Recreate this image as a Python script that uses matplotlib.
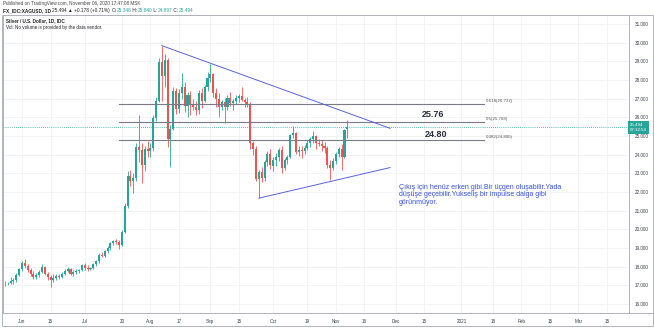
import matplotlib
matplotlib.use("Agg")
import matplotlib.pyplot as plt
from matplotlib.patches import Rectangle
from matplotlib.lines import Line2D
import numpy as np
import pandas as pd

plt.rcParams['font.family'] = ['Liberation Sans', 'DejaVu Sans']

# daily candles, business days from 2020-05-21 to 2020-11-06
first_day = '2020-05-21'
opens = [17.50, 17.15, 17.10, 17.12, 17.25, 17.30, 17.55,
         17.85, 18.20, 18.05, 17.80, 17.60, 17.45, 17.55, 17.70, 17.98, 17.62,
         17.45, 17.30, 17.40, 17.50, 17.45, 17.60, 17.78, 17.90, 17.62, 17.72,
         17.78, 17.82,
         18.10, 17.95, 17.85, 17.95, 18.12, 18.28, 18.65, 18.58, 18.85, 19.02,
         19.25, 19.40, 19.32, 19.18, 19.85, 21.25, 22.85, 22.60, 22.75, 24.40,
         24.25, 23.45, 24.30,
         24.22, 24.38, 25.95, 26.90, 28.95, 28.20, 29.05, 24.85, 25.40, 27.40,
         26.45, 27.30, 27.65, 26.60, 27.20, 26.65, 26.55, 26.40, 27.30, 26.90,
         27.65,
         28.10, 28.30, 27.30, 27.00, 26.55, 26.80, 26.55, 27.05, 26.75, 26.90,
         27.05, 27.15, 26.95, 26.80, 26.70, 24.62, 24.30, 22.70, 23.05, 22.75,
         23.60, 24.05,
         23.40, 23.72, 23.90, 24.25, 23.30, 23.70, 23.90, 25.05, 25.15, 24.15,
         24.25, 24.20, 24.35, 24.60, 24.85, 24.98, 24.65, 24.55, 24.45, 24.35,
         23.45, 23.30,
         23.65, 24.05, 24.30, 23.90, 25.348]
highs = [17.60, 17.25, 17.20, 17.45, 17.40, 17.65, 17.95,
         18.30, 18.40, 18.15, 17.95, 17.75, 17.65, 17.80, 18.15, 18.05, 17.70,
         17.55, 17.60, 17.60, 17.60, 17.70, 17.85, 18.00, 17.95, 17.80, 17.85,
         17.90, 18.15,
         18.20, 18.10, 18.00, 18.20, 18.35, 18.75, 18.80, 18.90, 19.10, 19.30,
         19.45, 19.50, 19.45, 19.95, 21.40, 23.10, 23.20, 23.00, 24.60, 26.15,
         24.60, 24.45, 24.75,
         24.60, 26.10, 27.10, 29.20, 29.84, 29.40, 29.20, 25.60, 27.60, 27.55,
         27.50, 28.40, 27.90, 27.35, 27.40, 27.00, 26.90, 27.45, 27.55, 27.75,
         28.45,
         28.88, 28.40, 27.55, 27.30, 26.95, 27.05, 27.20, 27.35, 27.00, 27.20,
         27.25, 27.60, 27.05, 27.10, 26.80, 24.75, 24.45, 23.20, 23.35, 23.70,
         24.20, 24.30,
         23.90, 24.10, 24.35, 24.45, 23.80, 24.00, 25.10, 25.55, 25.20, 24.45,
         24.45, 24.50, 24.80, 24.95, 25.25, 25.05, 24.85, 24.80, 24.70, 24.45,
         23.70, 23.80,
         24.15, 24.40, 24.55, 25.40, 25.840]
lows = [16.85, 16.95, 17.00, 17.05, 17.05, 17.20, 17.50,
        17.75, 17.95, 17.70, 17.50, 17.35, 17.35, 17.45, 17.65, 17.55, 17.30,
        16.90, 17.20, 17.30, 17.35, 17.40, 17.55, 17.70, 17.55, 17.50, 17.60,
        17.65, 17.75,
        17.80, 17.75, 17.80, 17.90, 18.05, 18.20, 18.50, 18.50, 18.75, 18.90,
        19.15, 19.20, 18.95, 19.10, 19.80, 21.15, 22.30, 21.95, 22.60, 23.60,
        22.50, 23.10, 23.90,
        23.90, 24.20, 25.80, 26.80, 26.90, 27.60, 24.40, 23.35, 25.30, 26.20,
        26.25, 27.00, 26.30, 26.00, 26.10, 26.40, 26.10, 26.20, 26.50, 26.80,
        27.40,
        27.90, 27.10, 26.55, 26.00, 26.40, 25.70, 26.40, 26.60, 26.40, 26.70,
        26.80, 26.85, 26.55, 26.55, 24.30, 24.00, 22.60, 21.67, 22.55, 22.60,
        23.40, 23.25,
        23.10, 23.40, 23.65, 23.00, 23.20, 23.50, 23.80, 24.90, 24.05, 23.95,
        23.80, 24.05, 24.25, 24.40, 24.60, 24.30, 24.45, 24.20, 24.10, 23.30,
        22.65, 23.20,
        23.50, 23.90, 23.20, 23.80, 24.897]
closes = [17.15, 17.10, 17.12, 17.25, 17.30, 17.55, 17.85,
          18.20, 18.05, 17.80, 17.60, 17.45, 17.55, 17.70, 17.98, 17.62, 17.45,
          17.30, 17.40, 17.50, 17.45, 17.60, 17.78, 17.90, 17.62, 17.72, 17.78,
          17.82, 18.10,
          17.95, 17.85, 17.95, 18.12, 18.28, 18.65, 18.58, 18.85, 19.02, 19.25,
          19.40, 19.32, 19.18, 19.85, 21.25, 22.85, 22.60, 22.75, 24.40, 24.25,
          23.45, 24.30, 24.22,
          24.38, 25.95, 26.90, 28.95, 28.20, 29.05, 24.85, 25.40, 27.40, 26.45,
          27.30, 27.65, 26.60, 27.20, 26.65, 26.55, 26.40, 27.30, 26.90, 27.65,
          28.10,
          28.30, 27.30, 27.00, 26.55, 26.80, 26.55, 27.05, 26.75, 26.90, 27.05,
          27.15, 26.95, 26.80, 26.70, 24.62, 24.30, 22.70, 23.05, 22.75, 23.60,
          24.05, 23.45,
          23.72, 23.90, 24.25, 23.30, 23.70, 23.90, 25.05, 25.15, 24.15, 24.25,
          24.20, 24.35, 24.60, 24.85, 24.98, 24.65, 24.55, 24.45, 24.35, 23.45,
          23.30, 23.65,
          24.05, 24.30, 23.90, 25.316, 25.494]

tick_dates = ['2020-06-01', '2020-06-15', '2020-07-01', '2020-07-20', '2020-08-03',
              '2020-08-17', '2020-09-01', '2020-09-15', '2020-10-01', '2020-10-19',
              '2020-11-02', '2020-11-16', '2020-12-01', '2020-12-15', '2021-01-01',
              '2021-01-18', '2021-02-01', '2021-02-15', '2021-03-01', '2021-03-15']
tick_labels = ['Jun', '15', 'Jul', '20', 'Aug', '17', 'Sep', '15', 'Oct', '19',
               'Nov', '16', 'Dec', '15', '2021', '18', 'Feb', '15', 'Mar', '15']
price_ticks = [16, 17, 18, 19, 20, 21, 22, 23, 24, 25, 26, 27, 28, 29, 30, 31]

fib_ratios = ['0.382', '0.5', '0.618']
fib_levels = [24.800, 25.768, 26.737]
fib_span = ['2020-07-17', '2021-01-13']

upper_dates = ['2020-08-07', '2020-11-27']
upper_prices = [29.84, 25.41]
lower_dates = ['2020-09-24', '2020-11-27']
lower_prices = [21.67, 23.31]

last_price = 25.494
note = ("Çıkış için henüz erken gibi.Bir üçgen oluşabilir.Yada\n"
        "düşüşe geçebilir.Yukseliş bir impulse dalga gibi\n"
        "görünmüyor.")

up_col = '#26a69a'
dn_col = '#ef5350'
line_col = '#5b62d6'
fib_col = '#787b86'
note_col = '#3551e0'
border_col = '#b0b3ba'

bdays = pd.bdate_range(first_day, '2021-03-31')
pos = {d.strftime('%Y-%m-%d'): i for i, d in enumerate(bdays)}
n = len(closes)
x = np.arange(n)
o = np.array(opens)
h = np.array(highs)
l = np.array(lows)
c = np.array(closes)

fig = plt.figure(figsize=(6.54, 3.28), dpi=100)
W, H = 654, 328
ax = fig.add_axes([3 / W, (H - 313) / H, 626 / W, 298 / H])

x0 = pos['2020-06-01']
ax.set_xlim(x0 - 6.66, x0 + 212.7)
ax.set_ylim(15.52, 31.48)

# grid
for p in price_ticks:
    ax.axhline(p, color='#f0f2f6', lw=0.6, zorder=0)
for d in tick_dates:
    ax.axvline(pos[d], color='#f0f2f6', lw=0.6, zorder=0)

# candles
up = c >= o
colors = np.where(up, up_col, dn_col)
ax.vlines(x, l, h, colors=colors, lw=0.6, zorder=2)
ax.bar(x, np.maximum(np.abs(c - o), 0.02), bottom=np.minimum(o, c), width=0.72,
       color=colors, edgecolor='none', zorder=3)

# last price line
ax.axhline(last_price, color=up_col, lw=0.6, ls=(0, (1, 1.5)), zorder=1)

# fib levels
fx0, fx1 = pos[fib_span[0]], pos[fib_span[1]]
for r, v in zip(fib_ratios, fib_levels):
    ax.plot([fx0, fx1], [v, v], color=fib_col, lw=0.8, zorder=4)
    ax.text(fx1 + 0.6, v + 0.05, f'{r}({v:.3f})', fontsize=3.2, color='#555',
            ha='left', va='bottom')

ax.text(pos['2020-12-18'], 25.768 + 0.12, '25.76', fontsize=6.5, fontweight='bold',
        color='#2a2e39', ha='center', va='bottom')
ax.text(pos['2020-12-21'], 24.800 + 0.05, '24.80', fontsize=6.5, fontweight='bold',
        color='#2a2e39', ha='center', va='bottom')

# triangle
ax.plot([pos[d] for d in upper_dates], upper_prices, color=line_col, lw=0.7, zorder=5)
ax.plot([pos[d] for d in lower_dates], lower_prices, color=line_col, lw=0.7, zorder=5)

ax.text(pos['2020-12-02'], 22.45, note, fontsize=5, color=note_col, ha='left',
        va='top', linespacing=1.15)

# axes styling
ax.yaxis.tick_right()
ax.set_yticks(price_ticks)
ax.set_yticklabels([f'{p:.3f}' for p in price_ticks])
ax.set_xticks([pos[d] for d in tick_dates])
ax.set_xticklabels(tick_labels)
ax.tick_params(axis='both', length=0, labelsize=3.3, labelcolor='#3a3e4a')
ax.tick_params(axis='y', pad=4)
ax.tick_params(axis='x', pad=4)
for s in ax.spines.values():
    s.set_color(border_col)
    s.set_linewidth(0.7)

# outer frame and axis separators
fig.add_artist(Rectangle((2 / W, (H - 326) / H), 651 / W, 311 / H,
                         transform=fig.transFigure, fill=False,
                         edgecolor=border_col, lw=0.7))
fig.add_artist(Line2D([629 / W, 653 / W], [(H - 313) / H] * 2,
                      transform=fig.transFigure, color=border_col, lw=0.7))

# last price tag
fig.text(630 / W, (H - 127.5) / H, '25.494\n07:12:54', fontsize=3.2, color='white',
         ha='left', va='center', linespacing=1.3,
         bbox=dict(boxstyle='square,pad=0.35', fc=up_col, ec='none'))

# header
fig.text(3 / W, (H - 3.5) / H, 'Published on TradingView.com, November 06, 2020 17:47:08 MSK',
         fontsize=3.3, color='#444', ha='left', va='center')
parts = [('FX_IDC:XAGUSD, 1D ', '#222'), ('25.494 ▲ +0.178 (+0.71%) ', '#222'),
         ('O:', '#222'), ('25.348', up_col), (' H:', '#222'), ('25.840', up_col),
         (' L:', '#222'), ('24.897', up_col), (' C:', '#222'), ('25.494', up_col)]
fig.canvas.draw()
renderer = fig.canvas.get_renderer()
xp = 3
for txt, col in parts:
    t = fig.text(xp / W, (H - 10.5) / H, txt, fontsize=3.4, color=col,
                 ha='left', va='center', fontweight='bold' if txt.startswith('FX') else 'normal')
    bb = t.get_window_extent(renderer=renderer)
    xp += bb.width

fig.text(6 / W, (H - 21) / H, 'Silver / U.S. Dollar, 1D, IDC', fontsize=3.3,
         fontweight='bold', color='#222', ha='left', va='center')
fig.text(6 / W, (H - 28) / H, 'Vol: No volume is provided by the data vendor.',
         fontsize=3.3, color='#222', ha='left', va='center')

fig.savefig('out.png', dpi=100)
